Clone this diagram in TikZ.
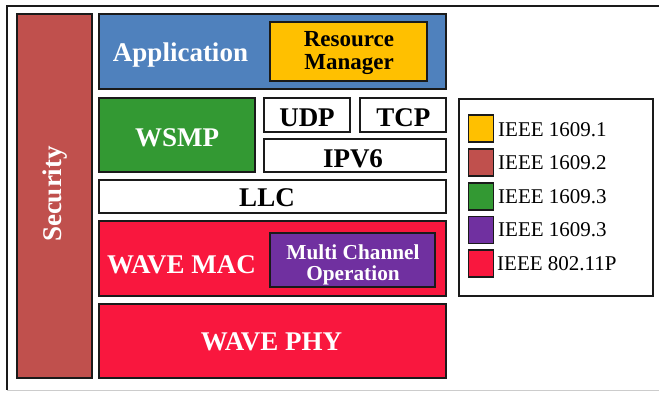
\documentclass[tikz,border=0pt]{standalone}
\usepackage{fontspec}
\setmainfont{Liberation Serif}
\definecolor{appblue}{HTML}{4F81BD}
\definecolor{resyellow}{HTML}{FFC000}
\definecolor{secred}{HTML}{C0504D}
\definecolor{wsmpgreen}{HTML}{339933}
\definecolor{mcopurple}{HTML}{7030A0}
\definecolor{wavered}{HTML}{F9173E}
\definecolor{edge}{HTML}{1A1A1A}
\tikzset{
  blk/.style={draw=edge, line width=1.6pt, anchor=north west, inner sep=0pt, outer sep=0pt},
  big/.style={font=\fontsize{27}{29}\selectfont\bfseries, inner sep=0pt, anchor=base},
  mid/.style={font=\fontsize{23}{24}\selectfont\bfseries, inner sep=0pt, anchor=base},
  small/.style={font=\fontsize{21.3}{22}\selectfont\bfseries, inner sep=0pt, anchor=base},
  legtxt/.style={font=\fontsize{21}{22}\selectfont, inner sep=0pt, anchor=base west},
  legsq/.style={draw=edge, line width=1.6pt, anchor=north west, minimum width=25pt, minimum height=27pt, inner sep=0pt}
}
\begin{document}
\begin{tikzpicture}[x=1pt,y=-1pt]
\useasboundingbox (0,0) rectangle (659,392);
% outer frame
\draw[line width=1.5pt, edge] (670,6) -- (7,6) -- (7,390);
\draw[line width=1.5pt, black!20] (7,390.5) -- (670,390.5);
% boxes
\node[blk, fill=secred, minimum width=75pt, minimum height=364pt] (sec) at (17,14) {};
\node[blk, fill=appblue, minimum width=347pt, minimum height=75pt] (app) at (99,14) {};
\node[blk, fill=resyellow, minimum width=157pt, minimum height=59pt] (res) at (270,22) {};
\node[blk, fill=wsmpgreen, minimum width=156pt, minimum height=74pt] (wsmp) at (99,98) {};
\node[blk, fill=white, minimum width=86pt, minimum height=34pt] (udp) at (264,98) {};
\node[blk, fill=white, minimum width=86pt, minimum height=34pt] (tcp) at (360,98) {};
\node[blk, fill=white, minimum width=182pt, minimum height=33pt] (ipv) at (264,139) {};
\node[blk, fill=white, minimum width=347pt, minimum height=33pt] (llc) at (99,180) {};
\node[blk, fill=wavered, minimum width=347pt, minimum height=75pt] (mac) at (99,221) {};
\node[blk, fill=mcopurple, minimum width=165pt, minimum height=54pt] (mco) at (270,233) {};
\node[blk, fill=wavered, minimum width=347pt, minimum height=74pt] (phy) at (99,304) {};
% labels
\node[font=\fontsize{27}{29}\selectfont\bfseries, text=white, rotate=90, inner sep=0pt] (secT) at (55,194) {Security};
\node[big, text=white] (appT) at (180.5,61.5) {Application};
\node[mid] (resT1) at (349,46) {Resource};
\node[mid] (resT2) at (349,69) {Manager};
\node[big, text=white] (wsmpT) at (177,146) {WSMP};
\node[big] (udpT) at (307,126.5) {UDP};
\node[big] (tcpT) at (403.3,126.5) {TCP};
\node[big] (ipvT) at (353,167) {IPV6};
\node[big] (llcT) at (267,206) {LLC};
\node[big, text=white] (macT) at (181.5,273) {WAVE MAC};
\node[small, text=white] (mcoT1) at (353,259) {Multi Channel};
\node[small, text=white] (mcoT2) at (353,280.5) {Operation};
\node[big, text=white] (phyT) at (271.5,350) {WAVE PHY};
% legend
\node[blk, fill=white, minimum width=194pt, minimum height=197pt] (leg) at (459,99) {};
\node[legsq, fill=resyellow] (sq1) at (467.5,114) {};
\node[legsq, fill=secred] (sq2) at (467.5,148) {};
\node[legsq, fill=wsmpgreen] (sq3) at (467.5,182) {};
\node[legsq, fill=mcopurple] (sq4) at (467.5,215.5) {};
\node[legsq, fill=wavered] (sq5) at (467.5,249) {};
\node[legtxt] (l1) at (498,136) {IEEE 1609.1};
\node[legtxt] (l2) at (498,169.5) {IEEE 1609.2};
\node[legtxt] (l3) at (498,203) {IEEE 1609.3};
\node[legtxt] (l4) at (498,236.5) {IEEE 1609.3};
\node[legtxt] (l5) at (497,270) {IEEE 802.11P};
\end{tikzpicture}
\end{document}
